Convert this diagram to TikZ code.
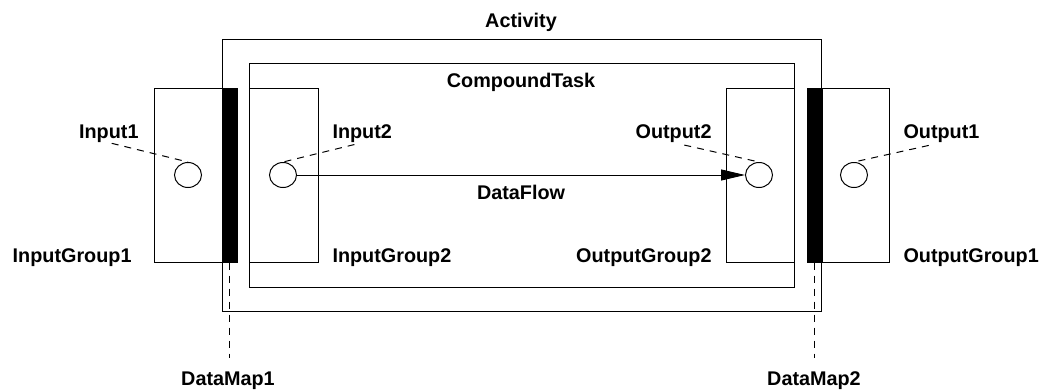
\documentclass[tikz,border=0pt]{standalone}
\usepackage{fontspec}
\setmainfont{Liberation Sans}
\usetikzlibrary{positioning}
\usetikzlibrary{arrows.meta}
\usetikzlibrary{shapes.geometric}
\usetikzlibrary{calc}

\begin{document}
\begin{tikzpicture}[x=1pt, y=-1pt, line width=1pt,
		font=\fontsize{19.8pt}{24pt}\selectfont\bfseries,
		box/.style={draw, rectangle, inner sep=0pt},
		bar/.style={draw, fill=black, rectangle, inner sep=0pt, minimum width=15pt, minimum height=174pt},
		port/.style={draw, ellipse, inner sep=0pt, minimum width=27pt, minimum height=25pt},
		lbl/.style={inner sep=0pt},
		tag/.style={dash pattern=on 7pt off 6pt}]
			\useasboundingbox (0,0) rectangle (1050,391);
			% Frames
			\node[box, minimum width=599pt, minimum height=272pt] (act) at (521.5,175) {};
			\node[box, minimum width=545pt, minimum height=224pt] (task) at (521.5,175) {};
			\node[lbl, anchor=base] (actlbl) at (521,27) {Activity};
			\node[lbl, anchor=base] (tasklbl) at (521,87) {CompoundTask};
			% Groups
			\node[box, minimum width=68pt, minimum height=174pt] (ig1) at (188,175) {};
			\node[box, minimum width=69pt, minimum height=174pt] (ig2) at (283.5,175) {};
			\node[box, minimum width=68pt, minimum height=174pt] (og2) at (760,175) {};
			\node[box, minimum width=67pt, minimum height=174pt] (og1) at (855.5,175) {};
			\node[lbl, anchor=base east] (ig1lbl) at (132,262) {InputGroup1};
			\node[lbl, anchor=base west] (ig2lbl) at (332,262) {InputGroup2};
			\node[lbl, anchor=base east] (og2lbl) at (712,262) {OutputGroup2};
			\node[lbl, anchor=base west] (og1lbl) at (903,262) {OutputGroup1};
			% Data maps
			\node[bar] (dm1) at (229.5,175) {};
			\node[bar] (dm2) at (814.5,175) {};
			\node[lbl, anchor=base] (dm1lbl) at (228,385) {DataMap1};
			\node[lbl, anchor=base] (dm2lbl) at (814,385) {DataMap2};
			% Ports
			\node[port] (in1) at (188,175) {};
			\node[port] (in2) at (283,175) {};
			\node[port] (out2) at (759,175) {};
			\node[port] (out1) at (854,175) {};
			\node[lbl, anchor=base east] (in1lbl) at (139,138) {Input1};
			\node[lbl, anchor=base west] (in2lbl) at (332,138) {Input2};
			\node[lbl, anchor=base east] (out2lbl) at (712,138) {Output2};
			\node[lbl, anchor=base west] (out1lbl) at (903,138) {Output1};
			% Connections
			\draw[-{Triangle[length=24pt,width=11pt]}] (in2) -- (out2);
			\node[lbl, anchor=base] (flowlbl) at (521,199) {DataFlow};
			\draw[tag, shorten <=3pt] (in1lbl.south) -- (in1.north);
			\draw[tag, shorten <=8pt] (in2lbl.south) -- (in2.north);
			\draw[tag, shorten <=11pt] (out2lbl.south) -- (out2.north);
			\draw[tag, shorten <=13pt] (out1lbl.south) -- (out1.north);
			\draw[tag, shorten >=13pt] (dm1.south) -- (dm1.south |- dm1lbl.north);
			\draw[tag, shorten >=13pt] (dm2.south) -- (dm2.south |- dm2lbl.north);
		\end{tikzpicture}
\end{document}
